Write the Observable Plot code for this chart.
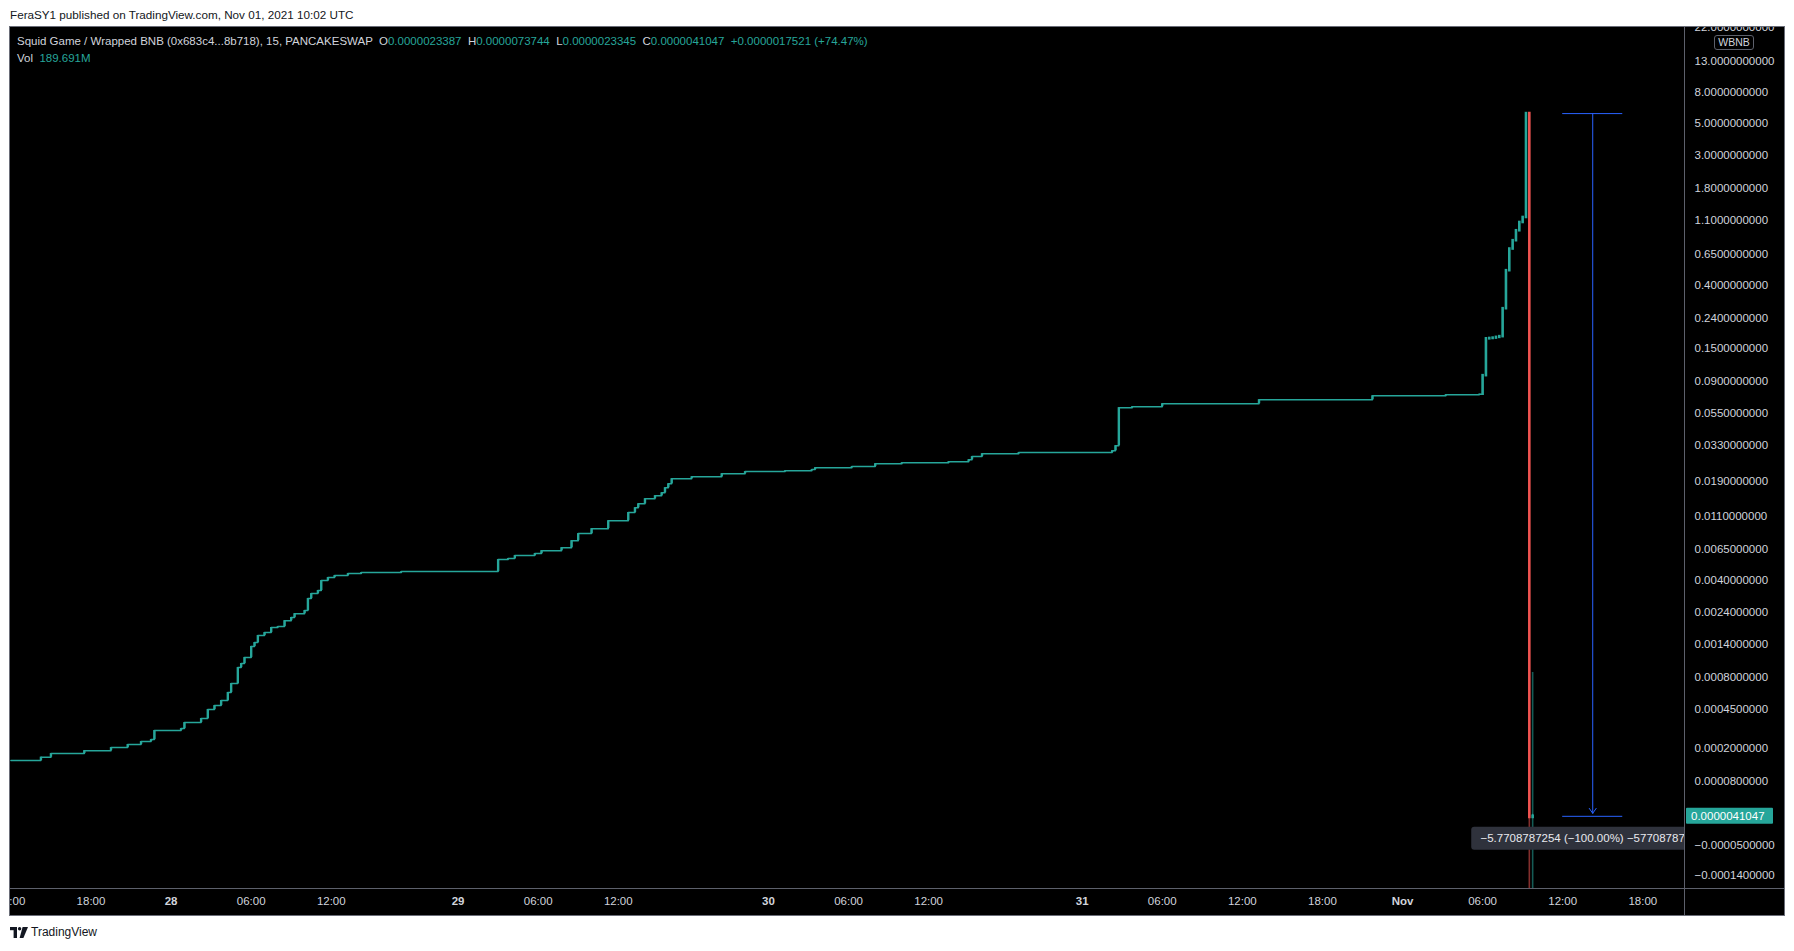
<!DOCTYPE html>
<html><head><meta charset="utf-8">
<script src="https://cdn.jsdelivr.net/npm/d3@7"></script>
<script src="https://cdn.jsdelivr.net/npm/@observablehq/plot@0.6"></script>
<style>
html,body{margin:0;padding:0;background:#fff;}
body{width:1794px;height:951px;position:relative;overflow:hidden;font-family:"Liberation Sans",Arial,sans-serif;}
#pub{position:absolute;left:10px;top:8px;font-size:11.7px;line-height:13px;color:#131722;}
#chart{position:absolute;left:10px;top:27px;width:1774px;height:888px;background:#000;box-shadow:0 0 0 1px #6a6d78;overflow:hidden;}
#chart svg{position:absolute;left:0;top:0;}
.legend{position:absolute;left:7px;font-size:11.5px;line-height:14px;color:#d1d4dc;white-space:pre;}
.v{color:#26a69a;}
.sep{position:absolute;background:#5d606b;}
#unit{position:absolute;left:1704px;top:8px;width:38px;height:13px;border:1px solid #5d606b;border-radius:3px;background:#000;color:#d1d4dc;font-size:10.5px;line-height:13px;text-align:center;}
#logo{position:absolute;left:10px;top:925px;height:14px;display:flex;align-items:center;gap:3px;color:#131722;font-size:12px;}
</style></head>
<body>
<div id="pub">FeraSY1 published on TradingView.com, Nov 01, 2021 10:02 UTC</div>
<div id="chart">
  <div id="volwrap"></div>
  <div id="pricewrap"></div>
  <div class="sep" style="left:1674px;top:0;width:1px;height:888px"></div>
  <div class="sep" style="left:0;top:861px;width:1774px;height:1px"></div>
  <div class="legend" style="top:7px">Squid Game / Wrapped BNB (0x683c4...8b718), 15, PANCAKESWAP  O<span class="v">0.0000023387</span>  H<span class="v">0.0000073744</span>  L<span class="v">0.0000023345</span>  C<span class="v">0.0000041047</span>  <span class="v">+0.0000017521 (+74.47%)</span></div>
  <div class="legend" style="top:24px">Vol  <span class="v">189.691M</span></div>
  <div id="unit">WBNB</div>
</div>
<div id="logo"><svg width="18" height="11" viewBox="0 0 18 11"><rect x="0" y="0" width="7" height="3.2" fill="#131722"/><rect x="3.6" y="0" width="3.4" height="11" fill="#131722"/><circle cx="9.6" cy="1.7" r="1.7" fill="#131722"/><polygon points="12.6,0 18,0 13.4,11 9.6,11" fill="#131722"/></svg><span>TradingView</span></div>
<script>
// ---- data (15-minute bars, bar 0 = 27 Oct 2021 12:00 UTC, missing bars skipped as on TradingView) ----
const stepBars   = [0, 9, 12, 22, 30, 35, 39, 42, 43, 51, 52, 57, 59, 61, 63, 65, 66, 68, 69, 70, 72, 73, 74, 76, 78, 80, 82, 84, 85, 88, 89, 90, 92, 93, 95, 97, 101, 105, 117, 146, 149, 151, 157, 159, 165, 168, 170, 174, 179, 185, 187, 188, 190, 193, 195, 196, 197, 198, 204, 213, 220, 232, 240, 241, 252, 259, 267, 281, 287, 288, 291, 302, 330, 331, 332, 336, 345, 374, 408, 430, 440];
const stepPrices = [0.000148, 0.000161, 0.000176, 0.000189, 0.000203, 0.000218, 0.000233, 0.000243, 0.000295, 0.000307, 0.000347, 0.000376, 0.000447, 0.000482, 0.00053, 0.000613, 0.00072, 0.000951, 0.00102, 0.00113, 0.00136, 0.00145, 0.00163, 0.00171, 0.00186, 0.00189, 0.00208, 0.00219, 0.00233, 0.00245, 0.00297, 0.00322, 0.00338, 0.00396, 0.00416, 0.00429, 0.00443, 0.0045, 0.00457, 0.00553, 0.00562, 0.00589, 0.00608, 0.00637, 0.00668, 0.00746, 0.00833, 0.00901, 0.0102, 0.0116, 0.0125, 0.0133, 0.0144, 0.0151, 0.0158, 0.0171, 0.0182, 0.0197, 0.0203, 0.0213, 0.022, 0.0223, 0.0227, 0.0234, 0.0238, 0.0249, 0.0253, 0.0257, 0.0265, 0.0278, 0.0291, 0.0296, 0.0305, 0.033, 0.0596, 0.0605, 0.0634, 0.0675, 0.0718, 0.073, 0.0735];

const candleBars  = [441, 442, 443, 444, 445, 446, 447, 448, 449, 450, 451, 452, 453, 454, 455, 456];
const candleOpen  = [0.0735, 0.0981, 0.174, 0.175, 0.176, 0.178, 0.180, 0.278, 0.502, 0.703, 0.800, 0.934, 1.062, 1.148, 5.7708828301, 0.0000023387];
const candleHigh  = [0.0981, 0.174, 0.175, 0.176, 0.178, 0.180, 0.278, 0.502, 0.703, 0.800, 0.934, 1.062, 1.148, 5.842, 5.7708828301, 0.0000073744];
const candleLow   = [0.0735, 0.0981, 0.174, 0.175, 0.176, 0.178, 0.180, 0.278, 0.502, 0.703, 0.800, 0.934, 1.062, 1.148, 0.0000023387, 0.0000023345];
const candleClose = [0.0981, 0.174, 0.175, 0.176, 0.178, 0.180, 0.278, 0.502, 0.703, 0.800, 0.934, 1.062, 1.148, 5.7708828301, 0.0000023387, 0.0000041047];

const volumeBars     = [455, 456];
const volumeMillions = [140.5, 189.691];

const tickBars   = [0, 24, 48, 72, 96, 134, 158, 182, 227, 251, 275, 321, 345, 369, 393, 417, 441, 465, 489];
const tickLabels = ["12:00", "18:00", "28", "06:00", "12:00", "29", "06:00", "12:00", "30", "06:00", "12:00", "31", "06:00", "12:00", "18:00", "Nov", "06:00", "12:00", "18:00"];

const priceTicks = [22, 13, 8, 5, 3, 1.8, 1.1, 0.65, 0.4, 0.24, 0.15, 0.09, 0.055, 0.033, 0.019, 0.011, 0.0065, 0.004, 0.0024, 0.0014, 0.0008, 0.00045, 0.0002, 0.00008, -0.00005, -0.00014];

const measureBars   = [465, 483];
const measurePrices = [5.7708828301, 0.0000041047];
const measureText   = "\u22125.7708787254 (\u2212100.00%) \u221257708787254";
const lastPriceText = "0.0000041047";

// ---- config ----
const W = 1774, H = 888, MR = 100, MB = 27;
const xDomain = [-0.12, 501.5];
const yDomain = [-0.000195, 22];
const UP = "#26a69a", DOWN = "#ef5350", BLUE = "#2962ff", TXT = "#d1d4dc";

const step = stepBars.map((b, i) => ({bar: b, price: stepPrices[i]}));
step.push({bar: candleBars[0], price: candleOpen[0]});
const jumps = stepBars.slice(1).map((b, i) => ({bar: b, p0: stepPrices[i], p1: stepPrices[i + 1]}));
const candles = candleBars.map((b, i) => ({bar: b, o: candleOpen[i], h: candleHigh[i], l: candleLow[i], c: candleClose[i]}));
const vols = volumeBars.map((b, i) => ({bar: b, v: volumeMillions[i], up: candleClose[candleBars.indexOf(b)] >= candleOpen[candleBars.indexOf(b)]}));
const labelOf = new Map(tickBars.map((b, i) => [b, tickLabels[i]]));
const hourTicks = tickBars.filter(b => labelOf.get(b).includes(":"));
const dayTicks = tickBars.filter(b => !labelOf.get(b).includes(":"));

const common = {
  width: W, height: H, marginLeft: 0, marginRight: MR, marginTop: 0, marginBottom: MB,
  style: {background: "transparent", overflow: "hidden", fontFamily: "'Liberation Sans', Arial, sans-serif", fontSize: "11.5px", color: TXT}
};

// volume overlay (own scale)
const volPlot = Plot.plot({
  ...common,
  x: {type: "linear", domain: xDomain, axis: null},
  y: {domain: [0, 756], axis: null},
  marks: [
    Plot.ruleX(vols, {x: "bar", y1: 0, y2: "v", stroke: d => d.up ? UP : DOWN, strokeOpacity: 0.55, strokeWidth: 1.6})
  ]
});
document.getElementById("volwrap").append(volPlot);

const plot = Plot.plot({
  ...common,
  x: {type: "linear", domain: xDomain, label: null},
  y: {type: "symlog", constant: 0.0001, domain: yDomain, label: null},
  marks: [
    Plot.line(step, {x: "bar", y: "price", curve: "step-after", stroke: UP, strokeWidth: 1.5, clip: true}),
    Plot.ruleX(jumps, {x: "bar", y1: "p0", y2: "p1", stroke: d => d.p1 >= d.p0 ? UP : DOWN, strokeWidth: 2.4, clip: true}),
    Plot.ruleX(candles, {x: "bar", y1: "l", y2: "h", stroke: d => d.c >= d.o ? UP : DOWN, strokeWidth: 1, clip: true}),
    Plot.ruleX(candles, {x: "bar", y1: "o", y2: "c", stroke: d => d.c >= d.o ? UP : DOWN, strokeWidth: 2.6, strokeLinecap: "square", clip: true}),
    // price range tool
    Plot.ruleY([measurePrices[0]], {x1: measureBars[0], x2: measureBars[1], stroke: BLUE, strokeWidth: 1}),
    Plot.ruleY([measurePrices[1]], {x1: measureBars[0], x2: measureBars[1], stroke: BLUE, strokeWidth: 1}),
    Plot.arrow([0], {x1: (measureBars[0] + measureBars[1]) / 2, x2: (measureBars[0] + measureBars[1]) / 2, y1: measurePrices[0], y2: measurePrices[1], stroke: BLUE, strokeWidth: 1, headLength: 9, headAngle: 70, insetEnd: 3}),
    Plot.axisY(priceTicks, {anchor: "right", label: null, tickSize: 0, tickPadding: 10, tickFormat: d3.format(".10f"), fill: TXT, fontSize: 11.5, textAnchor: "start"}),
    Plot.axisX(hourTicks, {anchor: "bottom", label: null, tickSize: 0, tickPadding: 8, tickFormat: b => labelOf.get(b), fill: TXT, fontSize: 11.5}),
    Plot.axisX(dayTicks, {anchor: "bottom", label: null, tickSize: 0, tickPadding: 8, tickFormat: b => labelOf.get(b), fill: TXT, fontSize: 11.5, fontWeight: "bold"})
  ]
});
document.getElementById("pricewrap").append(plot);

// annotations positioned through the plot's own scales
const xs = plot.scale("x"), ys = plot.scale("y");
const svg = d3.select(plot);
const lastY = ys.apply(candleClose[candleClose.length - 1]);
const tag = svg.append("g").attr("text-anchor", "start");
tag.append("rect").attr("x", W - MR + 2).attr("y", lastY - 8).attr("width", 87).attr("height", 16).attr("rx", 1).attr("fill", UP);
tag.append("text").attr("x", W - MR + 7).attr("y", lastY).attr("dy", "0.35em").attr("text-anchor", "start").attr("fill", "#fff").attr("font-size", 11.5).text(lastPriceText);

svg.append("clipPath").attr("id", "frameclip").append("rect").attr("x", 0).attr("y", 0).attr("width", W - MR).attr("height", H - MB);
const mx = xs.apply((measureBars[0] + measureBars[1]) / 2), my = ys.apply(measurePrices[1]);
const lab = svg.append("g").attr("clip-path", "url(#frameclip)");
lab.append("rect").attr("x", mx - 121).attr("y", my + 11).attr("width", 242).attr("height", 23).attr("rx", 3).attr("fill", "#2f323c");
lab.append("text").attr("x", mx).attr("y", my + 22.5).attr("dy", "0.35em").attr("text-anchor", "middle").attr("fill", "#e8e9ee").attr("font-size", 11.5).text(measureText);
</script>
</body></html>
